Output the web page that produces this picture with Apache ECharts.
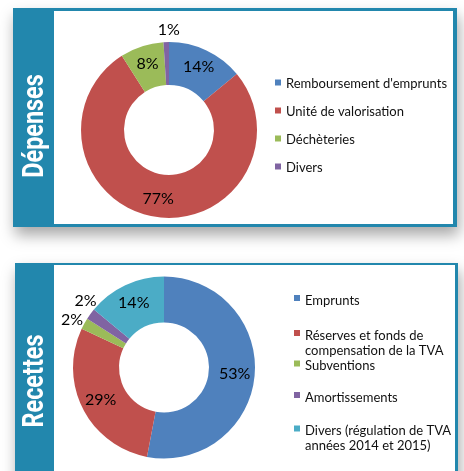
<!DOCTYPE html>
<html><head><meta charset="utf-8">
<script src="https://cdn.jsdelivr.net/npm/echarts@6/dist/echarts.min.js"></script>
<style>html,body{margin:0;padding:0;background:#fff}#c{width:464px;height:471px}</style>
</head><body><div id="c"></div>
<script>
const panelTitles = ['Dépenses', 'Recettes'];
const depCategories = ["Remboursement d'emprunts", "Unité de valorisation", "Déchèteries", "Divers"];
const depValues = [14, 77, 8, 1];
const recCategories = ["Emprunts", "Réserves et fonds de\ncompensation de la TVA", "Subventions", "Amortissements", "Divers (régulation de TVA\nannées 2014 et 2015)"];
const recValues = [53, 29, 2, 2, 14];
const depColors = ['#4F81BD', '#C0504D', '#9BBB59', '#8064A2'];
const recColors = ['#4F81BD', '#C0504D', '#9BBB59', '#8064A2', '#4BACC6'];

const frameBlue = '#2287AD';
const FONT = 'Lato';

function legendItem(name, left, top, lines, sq) {
  const h = 15 * lines;
  return {
    data: [name], left: left, top: top, orient: 'vertical', padding: 0,
    itemWidth: 6, itemHeight: h,
    icon: 'path://M0,0L0,0M0,' + sq + 'h6v6h-6zM0,' + h + 'L0,' + h,
    itemStyle: { borderWidth: 0 },
    selectedMode: false,
    textStyle: { fontFamily: FONT, fontSize: 13, color: '#111', lineHeight: 15 }
  };
}

const legends = [];
const depTops = [76.5, 104.5, 132.5, 160.5];
depCategories.forEach((n, i) => legends.push(legendItem(n, 275, depTops[i], 1, 3)));
const recTops = [293, 328, 358.5, 390, 423.5];
recCategories.forEach((n, i) => legends.push(legendItem(n, 294, recTops[i], n.indexOf('\n') >= 0 ? 2 : 1, 2)));

function pieData(names, vals, colors, outsideIdx) {
  return names.map((n, i) => {
    const d = { name: n, value: vals[i], itemStyle: { color: colors[i] } };
    if (outsideIdx.indexOf(i) >= 0) d.label = { position: 'outside' };
    return d;
  });
}

const labelStyle = { show: true, position: 'inside', formatter: '{c}%', fontFamily: FONT, fontSize: 16, color: '#000', distanceToLabelLine: 0 };

const option = {
  animation: false,
  graphic: [
    { type: 'rect', z: 0, shape: { x: 13, y: 8, width: 444, height: 219 }, style: { fill: frameBlue, shadowBlur: 14, shadowOffsetY: 8, shadowOffsetX: 2, shadowColor: 'rgba(0,0,0,0.35)' } },
    { type: 'rect', z: 1, shape: { x: 54, y: 11, width: 399, height: 213 }, style: { fill: '#fff' } },
    { type: 'rect', z: 0, shape: { x: 15, y: 263, width: 443, height: 230 }, style: { fill: frameBlue, shadowBlur: 14, shadowOffsetY: 8, shadowOffsetX: 2, shadowColor: 'rgba(0,0,0,0.35)' } },
    { type: 'rect', z: 1, shape: { x: 54, y: 265, width: 401, height: 230 }, style: { fill: '#fff' } },
    { type: 'text', z: 2, x: 35, y: 126, rotation: Math.PI / 2, scaleX: 0.78, style: { text: panelTitles[0], fill: '#fff', font: 'bold 30px Roboto', align: 'center', verticalAlign: 'middle' } },
    { type: 'text', z: 2, x: 35, y: 381, rotation: Math.PI / 2, scaleX: 0.78, style: { text: panelTitles[1], fill: '#fff', font: 'bold 30px Roboto', align: 'center', verticalAlign: 'middle' } }
  ],
  legend: legends,
  series: [
    {
      type: 'pie', center: [169, 130], radius: [45, 88], startAngle: 90, clockwise: true,
      avoidLabelOverlap: false, silent: true,
      itemStyle: { borderWidth: 0 },
      label: labelStyle,
      labelLine: { show: false, length: 12, length2: 0 },
      labelLayout: p => (p.dataIndex === 3 ? { align: 'center', verticalAlign: 'middle', dx: 3 } : {}),
      data: pieData(depCategories, depValues, depColors, [3])
    },
    {
      type: 'pie', center: [164, 367.5], radius: [45, 91], startAngle: 90, clockwise: true,
      avoidLabelOverlap: false, silent: true,
      itemStyle: { borderWidth: 0 },
      label: labelStyle,
      labelLine: { show: false, length: 14, length2: 0 },
      labelLayout: p => (p.dataIndex === 3 ? { align: 'center', verticalAlign: 'middle', dx: 6.5, dy: -4.5 }
        : p.dataIndex === 2 ? { align: 'center', verticalAlign: 'middle', dx: 0, dy: 3 } : {}),
      data: pieData(recCategories, recValues, recColors, [2, 3])
    }
  ]
};
const chart = echarts.init(document.getElementById('c'), null, { renderer: 'canvas' });
chart.setOption(option);
</script></body></html>
